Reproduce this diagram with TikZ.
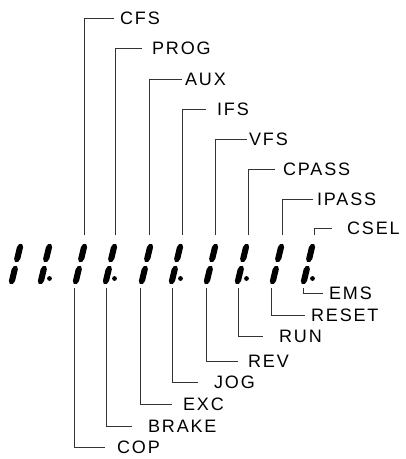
\documentclass[tikz,border=0pt]{standalone}
\usepackage{fontspec}
\setmainfont{Liberation Sans}[LetterSpace=10]
\begin{document}
\begin{tikzpicture}[x=1pt,y=-1pt,
  lead/.style={draw=black!80,line width=0.9pt},
  lbl/.style={anchor=west,inner sep=0pt,font=\fontsize{18}{20}\selectfont},
  seg/.style={fill=black,rounded corners=1.8pt}]
\useasboundingbox (0,0) rectangle (406,459);
% digits: bottom centre x, with decimal point flag
\foreach \bx/\dp in {11/0,40/1,75/0,105/1,141/0,171/1,206/0,237/1,272/0,303/1}{
  \begin{scope}[shift={(\bx,285)},xslant=0.238]
    \path[seg] (0,-42) -- (3.1,-39.5) -- (3.1,-24.5) -- (0,-22) -- (-3.1,-24.5) -- (-3.1,-39.5) -- cycle;
    \path[seg] (0,-20) -- (3.1,-17.5) -- (3.1,-2.5) -- (0,0) -- (-3.1,-2.5) -- (-3.1,-17.5) -- cycle;
  \end{scope}
  \ifnum\dp=1 \fill (\bx+9.5,278.5) circle (2.4); \fi
}
% top leads
\foreach \n/\vx/\ly/\hx/\tx/\t in {
  cfs/84/18/114/120/CFS, prog/115/48/142/152/PROG, aux/149/79/182/185/AUX,
  ifs/182/109/206/217/IFS, vfs/215/139/247/249/VFS, cpass/248/169/275/283/CPASS,
  ipass/282/199/313/317/IPASS, csel/314/228/332/347/CSEL}{
  \node[lbl] (\n) at (\tx,\ly) {\t};
  \coordinate (\n-b) at (\vx,235);
  \coordinate (\n-c) at (\vx,\ly);
  \coordinate (\n-e) at (\hx,\ly);
  \draw[lead] (\n-b) -- (\n-c) -- (\n-e);
}
% bottom leads
\foreach \n/\vx/\ly/\hx/\tx/\t in {
  cop/74/447/105/117/COP, brake/106/426/132/148/BRAKE, exc/140/404/172/183/EXC,
  jog/172/382/198/214/JOG, rev/206/361/238/248/REV, run/238/336/263/279/RUN,
  reset/271/315/305/311/RESET, ems/303/293/323/329/EMS}{
  \node[lbl] (\n) at (\tx,\ly) {\t};
  \coordinate (\n-b) at (\vx,288);
  \coordinate (\n-c) at (\vx,\ly);
  \coordinate (\n-e) at (\hx,\ly);
  \draw[lead] (\n-b) -- (\n-c) -- (\n-e);
}
\end{tikzpicture}
\end{document}
